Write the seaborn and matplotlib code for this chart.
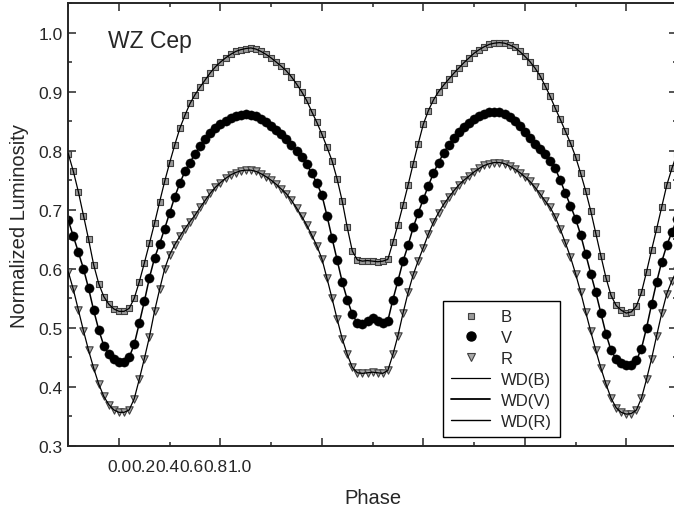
import matplotlib
matplotlib.use("Agg")
import matplotlib.pyplot as plt
import seaborn as sns
import pandas as pd
from matplotlib.lines import Line2D

# ---- data ----
phase = [
    -0.10, -0.09, -0.08, -0.07, -0.06, -0.05, -0.04, -0.03, -0.02, -0.01,
    0.00, 0.01, 0.02, 0.03, 0.04, 0.05, 0.06, 0.07, 0.08, 0.09,
    0.10, 0.11, 0.12, 0.13, 0.14, 0.15, 0.16, 0.17, 0.18, 0.19,
    0.20, 0.21, 0.22, 0.23, 0.24, 0.25, 0.26, 0.27, 0.28, 0.29,
    0.30, 0.31, 0.32, 0.33, 0.34, 0.35, 0.36, 0.37, 0.38, 0.39,
    0.40, 0.41, 0.42, 0.43, 0.44, 0.45, 0.46, 0.47, 0.48, 0.49,
    0.50, 0.51, 0.52, 0.53, 0.54, 0.55, 0.56, 0.57, 0.58, 0.59,
    0.60, 0.61, 0.62, 0.63, 0.64, 0.65, 0.66, 0.67, 0.68, 0.69,
    0.70, 0.71, 0.72, 0.73, 0.74, 0.75, 0.76, 0.77, 0.78, 0.79,
    0.80, 0.81, 0.82, 0.83, 0.84, 0.85, 0.86, 0.87, 0.88, 0.89,
    0.90, 0.91, 0.92, 0.93, 0.94, 0.95, 0.96, 0.97, 0.98, 0.99,
    1.00, 1.01, 1.02, 1.03, 1.04, 1.05, 1.06, 1.07, 1.08, 1.09,
    1.10,
]

lum_B = [
    0.795, 0.765, 0.730, 0.690, 0.650, 0.607, 0.575, 0.553, 0.540, 0.532,
    0.528, 0.528, 0.533, 0.550, 0.578, 0.610, 0.643, 0.677, 0.713, 0.748,
    0.780, 0.810, 0.838, 0.860, 0.880, 0.895, 0.908, 0.920, 0.932, 0.942,
    0.950, 0.957, 0.963, 0.968, 0.971, 0.973, 0.974, 0.972, 0.968, 0.963,
    0.957, 0.950, 0.943, 0.935, 0.925, 0.913, 0.900, 0.885, 0.866, 0.848,
    0.828, 0.806, 0.783, 0.752, 0.715, 0.670, 0.630, 0.615, 0.613, 0.614,
    0.613, 0.612, 0.613, 0.616, 0.645, 0.675, 0.708, 0.742, 0.778, 0.812,
    0.845, 0.868, 0.886, 0.900, 0.911, 0.921, 0.931, 0.940, 0.949, 0.957,
    0.965, 0.971, 0.976, 0.980, 0.982, 0.983, 0.982, 0.979, 0.975, 0.968,
    0.960, 0.951, 0.940, 0.927, 0.910, 0.892, 0.872, 0.853, 0.833, 0.813,
    0.790, 0.762, 0.732, 0.698, 0.660, 0.622, 0.585, 0.555, 0.538, 0.530,
    0.525, 0.527, 0.537, 0.560, 0.595, 0.632, 0.668, 0.705, 0.742, 0.770,
    0.795,
]

lum_V = [
    0.682, 0.655, 0.628, 0.600, 0.567, 0.530, 0.497, 0.470, 0.455, 0.447,
    0.443, 0.443, 0.450, 0.472, 0.508, 0.545, 0.585, 0.618, 0.642, 0.668,
    0.695, 0.722, 0.745, 0.765, 0.780, 0.795, 0.808, 0.820, 0.830, 0.838,
    0.845, 0.851, 0.856, 0.859, 0.861, 0.862, 0.861, 0.858, 0.854, 0.849,
    0.842, 0.835, 0.828, 0.820, 0.810, 0.800, 0.789, 0.777, 0.762, 0.745,
    0.725, 0.690, 0.652, 0.615, 0.578, 0.548, 0.523, 0.508, 0.506, 0.512,
    0.516, 0.512, 0.508, 0.512, 0.548, 0.580, 0.613, 0.640, 0.670, 0.695,
    0.718, 0.741, 0.762, 0.780, 0.796, 0.810, 0.821, 0.831, 0.840, 0.847,
    0.853, 0.858, 0.862, 0.865, 0.866, 0.865, 0.862, 0.857, 0.850, 0.841,
    0.832, 0.822, 0.812, 0.803, 0.794, 0.782, 0.770, 0.750, 0.728, 0.707,
    0.685, 0.658, 0.625, 0.592, 0.560, 0.525, 0.490, 0.462, 0.447, 0.440,
    0.437, 0.438, 0.445, 0.465, 0.500, 0.540, 0.578, 0.612, 0.640, 0.662,
    0.684,
]

lum_R = [
    0.595, 0.565, 0.530, 0.495, 0.462, 0.432, 0.405, 0.384, 0.370, 0.361,
    0.357, 0.357, 0.361, 0.380, 0.413, 0.448, 0.485, 0.528, 0.565, 0.600,
    0.624, 0.641, 0.655, 0.668, 0.680, 0.691, 0.704, 0.716, 0.728, 0.738,
    0.746, 0.753, 0.759, 0.763, 0.766, 0.767, 0.767, 0.765, 0.761, 0.756,
    0.750, 0.743, 0.735, 0.727, 0.716, 0.703, 0.689, 0.674, 0.657, 0.639,
    0.617, 0.584, 0.550, 0.515, 0.482, 0.455, 0.433, 0.424, 0.423, 0.424,
    0.425, 0.424, 0.423, 0.428, 0.455, 0.487, 0.525, 0.560, 0.590, 0.614,
    0.636, 0.659, 0.679, 0.695, 0.709, 0.721, 0.732, 0.742, 0.750, 0.757,
    0.764, 0.770, 0.775, 0.778, 0.780, 0.780, 0.778, 0.774, 0.769, 0.763,
    0.756, 0.748, 0.738, 0.727, 0.715, 0.704, 0.688, 0.667, 0.644, 0.620,
    0.592, 0.561, 0.527, 0.494, 0.462, 0.432, 0.405, 0.381, 0.365, 0.357,
    0.354, 0.355, 0.361, 0.381, 0.413, 0.448, 0.487, 0.525, 0.558, 0.580,
    0.597,
]

x_ticks = [0.0, 0.2, 0.4, 0.6, 0.8, 1.0]
x_tick_labels = ["0.0", "0.2", "0.4", "0.6", "0.8", "1.0"]
y_ticks = [0.3, 0.4, 0.5, 0.6, 0.7, 0.8, 0.9, 1.0]
y_tick_labels = ["0.3", "0.4", "0.5", "0.6", "0.7", "0.8", "0.9", "1.0"]
legend_labels = ["B", "V", "R", "WD(B)", "WD(V)", "WD(R)"]

# ---- style ----
sns.set_style("ticks")
plt.rcParams["font.family"] = ["Liberation Sans", "DejaVu Sans"]

df_B = pd.DataFrame({"phase": phase, "lum": lum_B})
df_V = pd.DataFrame({"phase": phase, "lum": lum_V})
df_R = pd.DataFrame({"phase": phase, "lum": lum_R})

fig = plt.figure(figsize=(6.74, 5.10), dpi=100)
ax = fig.add_axes([0.1013, 0.1235, 0.9031, 0.8686])

b_style = dict(marker="s", s=22, color="#9a9a9a", edgecolor="#404040", linewidth=0.8)
v_style = dict(marker="o", s=44, color="black", edgecolor="black", linewidth=0.3)
r_style = dict(marker="v", s=28, color="#a8a8a8", edgecolor="#404040", linewidth=0.8)

sns.scatterplot(data=df_B, x="phase", y="lum", ax=ax, zorder=2, **b_style)
sns.scatterplot(data=df_V, x="phase", y="lum", ax=ax, zorder=2, **v_style)
sns.scatterplot(data=df_R, x="phase", y="lum", ax=ax, zorder=2, **r_style)

sns.lineplot(data=df_B, x="phase", y="lum", ax=ax, color="black", lw=0.9,
             estimator=None, sort=True, zorder=3)
sns.lineplot(data=df_V, x="phase", y="lum", ax=ax, color="black", lw=1.1,
             estimator=None, sort=True, zorder=3)
sns.lineplot(data=df_R, x="phase", y="lum", ax=ax, color="black", lw=0.9,
             estimator=None, sort=True, zorder=3)

ax.set_xlim(-0.1, 1.1)
ax.set_ylim(0.3, 1.05)

# major x tick marks without labels; labels are drawn crammed as in the original
ax.set_xticks(x_ticks)
ax.set_xticklabels([""] * len(x_ticks))
ax.set_xticks([0.1, 0.3, 0.5, 0.7, 0.9, 1.1, -0.1], minor=True)
ax.set_yticks(y_ticks)
ax.set_yticklabels(y_tick_labels)
ax.set_yticks([0.35, 0.45, 0.55, 0.65, 0.75, 0.85, 0.95, 1.05], minor=True)

ax.tick_params(which="both", direction="in", top=True, right=True, width=1.1,
               labelsize=12.5, pad=4)
ax.tick_params(which="major", length=5.5)
ax.tick_params(which="minor", length=3)
for sp in ax.spines.values():
    sp.set_linewidth(1.4)
    sp.set_visible(True)

sec = ax.secondary_xaxis("bottom")
sec.set_xticks([i * 0.0475 for i in range(len(x_tick_labels))], labels=x_tick_labels)
sec.tick_params(length=0, pad=9, labelsize=12.5)
sec.spines["bottom"].set_visible(False)

ax.set_xlabel("Phase", fontsize=14.5)
ax.set_ylabel("Normalized Luminosity", fontsize=14.5)
ax.xaxis.set_label_coords(0.5, -0.095)
ax.yaxis.set_label_coords(-0.065, 0.5)

ax.text(0.065, 0.90, "WZ Cep", transform=ax.transAxes, fontsize=16.5,
        ha="left", va="baseline")

handles = [
    Line2D([], [], ls="", marker="s", markersize=4.5, markerfacecolor="#9a9a9a",
           markeredgecolor="#404040", markeredgewidth=0.8),
    Line2D([], [], ls="", marker="o", markersize=6.5, color="black"),
    Line2D([], [], ls="", marker="v", markersize=5.5, markerfacecolor="#a8a8a8",
           markeredgecolor="#404040", markeredgewidth=0.8),
    Line2D([], [], color="black", lw=0.9),
    Line2D([], [], color="black", lw=1.3),
    Line2D([], [], color="black", lw=1.0),
]
leg = ax.legend(handles, legend_labels, loc="upper left",
                bbox_to_anchor=(0.6156, 0.327), fontsize=12, frameon=True,
                fancybox=False, shadow=False, framealpha=1, edgecolor="black",
                handlelength=2.35, handletextpad=0.6, labelspacing=0.35,
                borderpad=0.5, borderaxespad=0)
leg.get_frame().set_linewidth(1.0)

fig.savefig("out.png", dpi=100)
